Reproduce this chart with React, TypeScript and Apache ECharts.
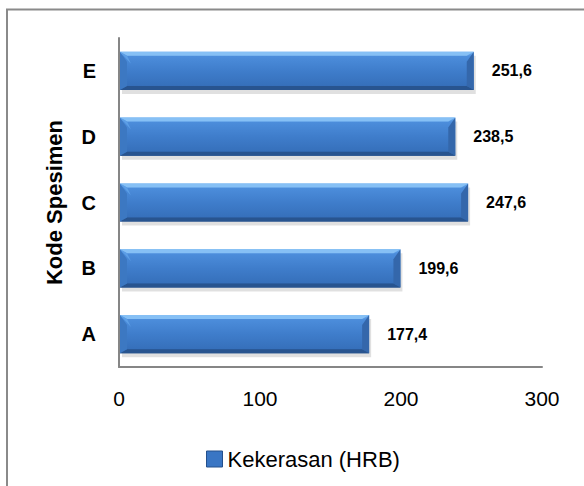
import React, { useEffect, useRef } from "react";
import * as echarts from "echarts";

const categories = ["A", "B", "C", "D", "E"];
const hardness = [177.4, 199.6, 247.6, 238.5, 251.6];
const seriesName = "Kekerasan (HRB)";
const axisTitle = "Kode Spesimen";
const xTicks = { min: 0, max: 300, interval: 100 };

const FONT = "'Liberation Sans', Arial, sans-serif";

export default function App() {
  const ref = useRef<HTMLDivElement>(null);

  useEffect(() => {
    if (!ref.current) return;
    const chart = echarts.init(ref.current, null, { renderer: "svg" });

    const renderItem = (params: any, api: any) => {
      const v = api.value(0);
      const cat = api.value(1);
      const s = api.coord([0, cat]);
      const e = api.coord([v, cat]);
      const band = api.size([0, 1])[1];
      const h = band * 0.58;
      const x0 = s[0] + 1;
      const x1 = e[0];
      const y0 = s[1] - h / 2;
      const y1 = y0 + h;
      const w = x1 - x0;
      const b = 7;
      const bv = 4;
      const grad = new echarts.graphic.LinearGradient(0, 0, 0, 1, [
        { offset: 0, color: "#6eaef0" },
        { offset: 0.12, color: "#4c8ddb" },
        { offset: 0.5, color: "#3f7dcb" },
        { offset: 0.88, color: "#3670bb" },
        { offset: 1, color: "#24508c" },
      ]);
      return {
        type: "group",
        children: [
          {
            type: "rect",
            shape: { x: x0 + 2, y: y0 + 4, width: w, height: h },
            style: { fill: "rgba(0,0,0,0.12)" },
          },
          {
            type: "rect",
            shape: { x: x0, y: y0, width: w, height: h },
            style: { fill: grad },
          },
          {
            type: "polygon",
            shape: { points: [[x0, y0], [x1, y0], [x1 - b, y0 + bv], [x0 + b, y0 + bv]] },
            style: { fill: "#86c0f5" },
          },
          {
            type: "polygon",
            shape: { points: [[x0, y1], [x1, y1], [x1 - b, y1 - bv], [x0 + b, y1 - bv]] },
            style: { fill: "#28548f" },
          },
          {
            type: "polygon",
            shape: { points: [[x0, y0], [x0 + b, y0 + bv + 6], [x0 + b, y1 - bv], [x0, y1]] },
            style: { fill: "#3c78c2" },
          },
          {
            type: "polygon",
            shape: { points: [[x0, y0], [x0 + b + 4, y0 + bv + 8], [x0 + b, y0 + bv]] },
            style: { fill: "#5d9fe6" },
          },
          {
            type: "polygon",
            shape: { points: [[x1, y0], [x1 - b, y0 + bv + 6], [x1 - b, y1 - bv], [x1, y1]] },
            style: { fill: "#3467ab" },
          },
          {
            type: "text",
            style: {
              x: x1 + 18,
              y: s[1],
              text: v.toFixed(1).replace(".", ","),
              fill: "#000",
              font: "bold 16px " + FONT,
              verticalAlign: "middle",
              align: "left",
            },
          },
        ],
      };
    };

    chart.setOption({
      animation: false,
      backgroundColor: "#ffffff",
      graphic: [
        {
          type: "rect",
          shape: { x: 7, y: 9.5, width: 620, height: 520 },
          style: { fill: "none", stroke: "#8a8a8a", lineWidth: 2 },
          silent: true,
        },
      ],
      grid: { left: 119, right: 42, top: 38, bottom: 119, containLabel: false },
      legend: {
        left: 201,
        top: 443,
        itemWidth: 16,
        itemHeight: 16,
        data: [
          {
            name: seriesName,
            icon: "rect",
            itemStyle: { color: "#3a76c4", borderColor: "#24508c", borderWidth: 1 },
          },
        ],
        textStyle: { fontFamily: FONT, fontSize: 22, color: "#000" },
      },
      xAxis: {
        type: "value",
        min: xTicks.min,
        max: xTicks.max,
        interval: xTicks.interval,
        axisLine: { show: true, lineStyle: { color: "#868686", width: 2 } },
        axisTick: { show: false },
        splitLine: { show: false },
        axisLabel: { fontFamily: FONT, fontSize: 21, color: "#000", margin: 21 },
      },
      yAxis: {
        type: "category",
        data: categories,
        axisLine: { show: true, lineStyle: { color: "#868686", width: 2 } },
        axisTick: { show: false },
        axisLabel: { fontFamily: FONT, fontWeight: "bold", fontSize: 20, color: "#000", margin: 23 },
        name: axisTitle,
        nameLocation: "middle",
        nameGap: 54,
        nameTextStyle: { fontFamily: FONT, fontWeight: "bold", fontSize: 22, color: "#000" },
      },
      series: [
        {
          type: "custom",
          name: seriesName,
          renderItem,
          encode: { x: 0, y: 1 },
          data: hardness.map((v, i) => [v, i]),
          itemStyle: { color: "#3a76c4" },
        },
      ],
    });

    return () => chart.dispose();
  }, []);

  return (
    <div
      ref={ref}
      style={{ position: "fixed", left: 0, top: 0, width: 584, height: 486, background: "#fff" }}
    />
  );
}
